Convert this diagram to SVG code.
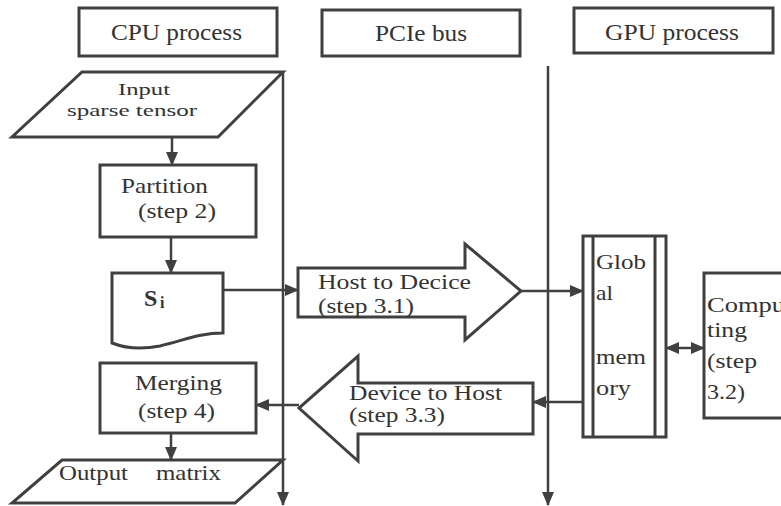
<svg xmlns="http://www.w3.org/2000/svg" width="781" height="506" viewBox="0 0 781 506">
<style>
.s{fill:#fff;stroke:#404040;stroke-width:3}
.c{fill:none;stroke:#404040;stroke-width:2.5}
text{font-family:"Liberation Serif","Times New Roman",serif;fill:#333;font-size:21px}
.h{font-size:23px}
.t{font-size:17px}
</style>
<defs>
<marker id="a" markerUnits="userSpaceOnUse" markerWidth="14" markerHeight="12" refX="13" refY="6" orient="auto">
<path d="M0,0 L14,6 L0,12 Z" fill="#404040"/>
</marker>
<marker id="b" markerUnits="userSpaceOnUse" markerWidth="14" markerHeight="12" refX="1" refY="6" orient="auto">
<path d="M14,0 L0,6 L14,12 Z" fill="#404040"/>
</marker>
</defs>
<rect width="781" height="506" fill="#fff"/>
<g id="connectors">
<line class="c" x1="283" y1="72" x2="283" y2="505" marker-end="url(#a)"/>
<line class="c" x1="548" y1="66" x2="548" y2="505" marker-end="url(#a)"/>
<line class="c" x1="172" y1="137" x2="172" y2="165" marker-end="url(#a)"/>
<line class="c" x1="171" y1="237" x2="171" y2="273" marker-end="url(#a)"/>
<line class="c" x1="223" y1="290" x2="298" y2="290" marker-end="url(#a)"/>
<line class="c" x1="521" y1="291" x2="583" y2="291" marker-end="url(#a)"/>
<line class="c" x1="583" y1="402" x2="533" y2="402" marker-end="url(#a)"/>
<line class="c" x1="299" y1="405" x2="256" y2="405" marker-end="url(#a)"/>
<line class="c" x1="666" y1="348" x2="704" y2="348" marker-start="url(#b)" marker-end="url(#a)"/>
<line class="c" x1="171" y1="433" x2="171" y2="460" marker-end="url(#a)"/>
</g>
<g id="cpu-header">
<rect class="s" x="79" y="8" width="198" height="48"/>
<text class="h" x="111" y="40" textLength="131" lengthAdjust="spacingAndGlyphs">CPU process</text>
</g>
<g id="pcie-header">
<rect class="s" x="322" y="10" width="198" height="46"/>
<text class="h" x="375" y="41" textLength="92" lengthAdjust="spacingAndGlyphs">PCIe bus</text>
</g>
<g id="gpu-header">
<rect class="s" x="574" y="8" width="199" height="45"/>
<text class="h" x="605" y="40" textLength="134" lengthAdjust="spacingAndGlyphs">GPU process</text>
</g>
<g id="input">
<polygon class="s" points="82,72 283,72 218,137 12,137"/>
<text class="t" x="118" y="95" textLength="52" lengthAdjust="spacingAndGlyphs">Input</text>
<text class="t" x="67" y="116" textLength="130" lengthAdjust="spacingAndGlyphs">sparse tensor</text>
</g>
<g id="partition">
<rect class="s" x="100" y="165" width="156" height="72"/>
<text x="121" y="193" textLength="87" lengthAdjust="spacingAndGlyphs">Partition</text>
<text x="138" y="218" textLength="78" lengthAdjust="spacingAndGlyphs">(step 2)</text>
</g>
<g id="si">
<path class="s" d="M112,273 H223 V333 C200,333 185,340 160,346 C145,349 130,350 112,343 Z"/>
<text x="144" y="306" font-weight="bold" style="font-size:24px">S</text>
<text x="160" y="308" font-weight="bold" style="font-size:16px">i</text>
</g>
<g id="host-to-device">
<polygon class="s" points="298,268 465,268 465,244 521,291 465,340 465,317 298,317"/>
<text x="318" y="289" textLength="153" lengthAdjust="spacingAndGlyphs">Host to Decice</text>
<text x="318" y="313" textLength="96" lengthAdjust="spacingAndGlyphs">(step 3.1)</text>
</g>
<g id="global-memory">
<rect class="s" x="583" y="236" width="83" height="201"/>
<line class="c" x1="593" y1="236" x2="593" y2="437" style="stroke-width:3"/>
<line class="c" x1="655" y1="236" x2="655" y2="437" style="stroke-width:3"/>
<text x="596" y="269" textLength="50" lengthAdjust="spacingAndGlyphs">Glob</text>
<text x="596" y="300" textLength="17" lengthAdjust="spacingAndGlyphs">al</text>
<text x="596" y="364" textLength="50" lengthAdjust="spacingAndGlyphs">mem</text>
<text x="596" y="395" textLength="35" lengthAdjust="spacingAndGlyphs">ory</text>
</g>
<g id="computing">
<rect class="s" x="704" y="273" width="100" height="145"/>
<text x="707" y="312" textLength="78" lengthAdjust="spacingAndGlyphs">Compu</text>
<text x="707" y="337" textLength="40" lengthAdjust="spacingAndGlyphs">ting</text>
<text x="707" y="368" textLength="50" lengthAdjust="spacingAndGlyphs">(step</text>
<text x="707" y="399" textLength="38" lengthAdjust="spacingAndGlyphs">3.2)</text>
</g>
<g id="device-to-host">
<polygon class="s" points="533,383 358,383 358,356 299,408 358,461 358,434 533,434"/>
<text x="349" y="400" textLength="153" lengthAdjust="spacingAndGlyphs">Device to Host</text>
<text x="349" y="422" textLength="96" lengthAdjust="spacingAndGlyphs">(step 3.3)</text>
</g>
<g id="merging">
<rect class="s" x="100" y="363" width="156" height="70"/>
<text x="135" y="390" textLength="87" lengthAdjust="spacingAndGlyphs">Merging</text>
<text x="138" y="418" textLength="77" lengthAdjust="spacingAndGlyphs">(step 4)</text>
</g>
<g id="output">
<polygon class="s" points="62,460 283,460 235,503 12,503"/>
<text x="59" y="480" textLength="69" lengthAdjust="spacingAndGlyphs">Output</text>
<text x="156" y="480" textLength="65" lengthAdjust="spacingAndGlyphs">matrix</text>
</g>
</svg>
